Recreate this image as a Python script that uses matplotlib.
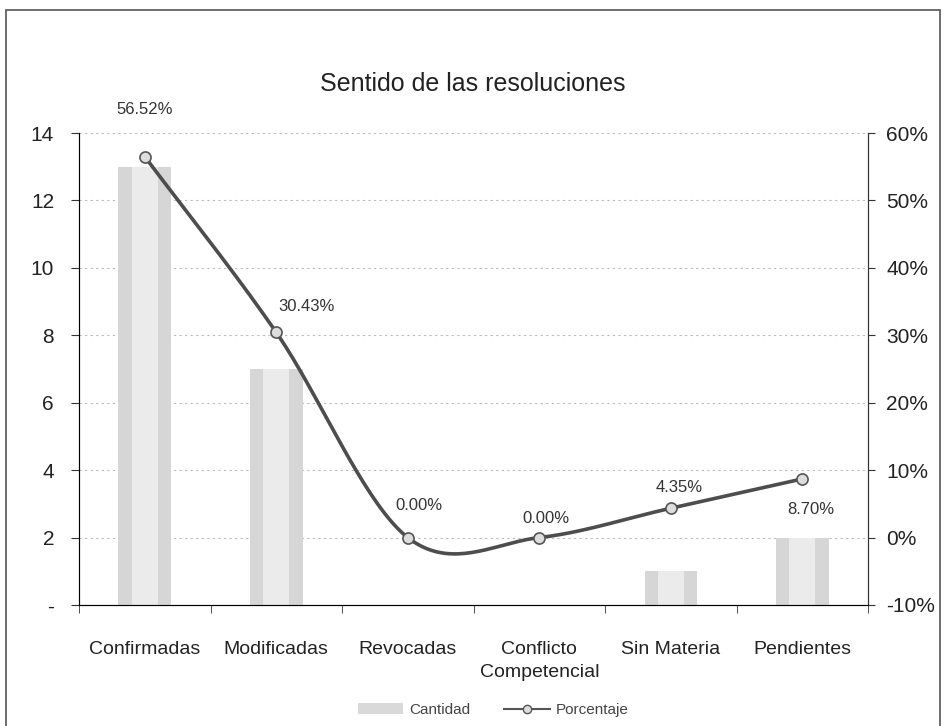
import numpy as np
import matplotlib
matplotlib.use("Agg")
import matplotlib.pyplot as plt
from matplotlib.patches import Rectangle
from matplotlib.lines import Line2D
from matplotlib.ticker import FuncFormatter

plt.rcParams['font.family'] = ['Liberation Sans Narrow', 'Liberation Sans', 'DejaVu Sans']

categorias = ['Confirmadas', 'Modificadas', 'Revocadas', 'Conflicto\nCompetencial', 'Sin Materia', 'Pendientes']
cantidad = [13, 7, 0, 0, 1, 2]
porcentaje = [56.52, 30.43, 0.00, 0.00, 4.35, 8.70]
etiquetas = ['56.52%', '30.43%', '0.00%', '0.00%', '4.35%', '8.70%']
# desplazamiento de cada etiqueta en puntos
offsets = [(0, 34), (22, 19), (8, 23), (5, 14), (6, 15), (6, -22)]


def catmull_rom(x, y, n=40):
    # curva suavizada al estilo Excel (solo para dibujar la linea)
    x = np.asarray(x, float)
    y = np.asarray(y, float)
    xs, ys = [], []
    for i in range(len(x) - 1):
        m0 = (y[i + 1] - y[i - 1]) / 2 if i > 0 else (y[i + 1] - y[i])
        m1 = (y[i + 2] - y[i]) / 2 if i + 2 < len(x) else (y[i + 1] - y[i])
        t = np.linspace(0, 1, n)
        h00 = 2 * t**3 - 3 * t**2 + 1
        h10 = t**3 - 2 * t**2 + t
        h01 = -2 * t**3 + 3 * t**2
        h11 = t**3 - t**2
        xs.append(x[i] + t * (x[i + 1] - x[i]))
        ys.append(h00 * y[i] + h10 * m0 + h01 * y[i + 1] + h11 * m1)
    return np.concatenate(xs), np.concatenate(ys)


fig = plt.figure(figsize=(9.45, 7.26), dpi=100)
ax = fig.add_axes([0.0836, 0.1667, 0.835, 0.650])
ax2 = ax.twinx()

x = np.arange(len(categorias))
ancho = 0.4
ax.bar(x, cantidad, width=ancho, color='#d6d6d6', zorder=2)
ax.bar(x, cantidad, width=ancho * 0.5, color='#ebebeb', zorder=2)

ax.set_xlim(-0.5, len(categorias) - 0.5)
ax.set_ylim(0, 14)
ax.set_yticks(range(0, 15, 2))
ax.yaxis.set_major_formatter(FuncFormatter(lambda v, p: '-' if v == 0 else '%d' % v))
ax.yaxis.grid(True, linestyle=(0, (2, 3)), color='#bbbbbb', linewidth=0.8)
ax.set_axisbelow(True)
ax.set_xticks(x)
ax.set_xticklabels(categorias, fontsize=14, color='#222222', linespacing=1.45)
ax.set_xticks(np.arange(-0.5, len(categorias)), minor=True)
ax.tick_params(axis='x', which='major', length=0, pad=26)
ax.tick_params(axis='x', which='minor', length=6, color='#333333')
ax.tick_params(axis='y', labelsize=15, length=6, color='#333333', labelcolor='#222222', pad=12)
ax.spines['top'].set_visible(False)
for s in ['left', 'bottom', 'right']:
    ax.spines[s].set_color('#333333')

ax2.set_ylim(-10, 60)
ax2.set_yticks(range(-10, 61, 10))
ax2.yaxis.set_major_formatter(FuncFormatter(lambda v, p: '%d%%' % v))
ax2.tick_params(axis='y', labelsize=15, length=5, color='#333333', labelcolor='#222222', pad=8)
ax2.spines['top'].set_visible(False)
ax2.spines['right'].set_color('#333333')

cx, cy = catmull_rom(x, porcentaje)
ax2.plot(cx, cy, color='#4d4d4d', linewidth=2.6, zorder=3)
ax2.plot(x, porcentaje, linestyle='none', marker='o', markersize=8,
         markerfacecolor='#dddddd', markeredgecolor='#555555', markeredgewidth=1.2, zorder=4)
for xi, yi, txt, off in zip(x, porcentaje, etiquetas, offsets):
    ax2.annotate(txt, (xi, yi), xytext=off, textcoords='offset points',
                 ha='center', va='center', fontsize=12, color='#333333')

fig.text(0.5, 0.884, 'Sentido de las resoluciones', ha='center', va='center',
         fontsize=18, color='#222222')

h_bar = Rectangle((0, 0), 1, 1, facecolor='#d9d9d9', edgecolor='none')
h_line = Line2D([], [], color='#555555', linewidth=1.5, marker='o', markersize=6,
                markerfacecolor='#dddddd', markeredgecolor='#555555')
fig.legend([h_bar, h_line], ['Cantidad', 'Porcentaje'], loc='center',
           bbox_to_anchor=(0.522, 0.022), ncol=2, frameon=False, fontsize=11,
           handlelength=3, columnspacing=2.2, handletextpad=0.4, labelcolor='#444444')

fig.patches.append(Rectangle((0.006, -0.01), 0.989, 0.996, transform=fig.transFigure,
                             fill=False, edgecolor='#555555', linewidth=1.2))

fig.savefig('out.png', dpi=100)
